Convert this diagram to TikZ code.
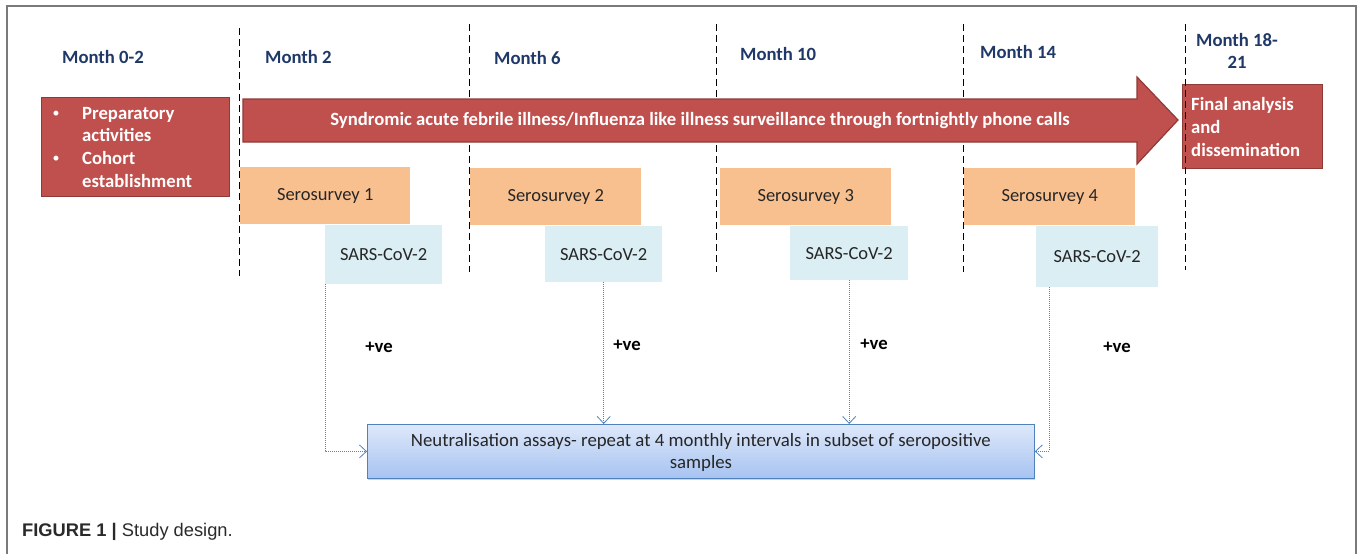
\documentclass[tikz,border=0pt]{standalone}
\usepackage{fontspec}
\setmainfont{Carlito}
\newfontfamily\capfont{Liberation Sans}
\usetikzlibrary{arrows.meta,calc,shadows}
\definecolor{redfill}{HTML}{C0504D}
\definecolor{redline}{HTML}{8E3A37}
\definecolor{navy}{HTML}{1F3868}
\definecolor{orangefill}{HTML}{F9C08F}
\definecolor{bluefill}{HTML}{DAEEF3}
\definecolor{linkblue}{HTML}{4F81BD}
\definecolor{neuttop}{HTML}{DEE8FA}
\definecolor{neutbot}{HTML}{A6C3F1}
\definecolor{framegray}{HTML}{7A7A7A}
\definecolor{capgray}{HTML}{2A2A2A}
\tikzset{
  monthlbl/.style={font=\fontsize{18.7}{22}\selectfont\bfseries, text=navy, inner sep=0pt},
  redbox/.style={fill=redfill, draw=redline, line width=1.4pt, inner sep=0pt},
  whitetxt/.style={font=\fontsize{18.7}{22.8}\selectfont\bfseries, text=white, inner sep=0pt, align=left},
  bullettxt/.style={font=\fontsize{14}{16}\selectfont, text=white, inner sep=0pt},
  serobox/.style={fill=orangefill, inner sep=0pt, font=\fontsize{18.5}{21}\selectfont, text=black!85},
  sarsbox/.style={fill=bluefill, inner sep=0pt, font=\fontsize{18.5}{21}\selectfont, text=black!85},
  dashline/.style={black, line width=1pt, dash pattern=on 7pt off 4pt},
  link/.style={linkblue, line width=0.9pt, dash pattern=on 1pt off 1pt, -{Straight Barb[length=7pt,width=13pt,line width=0.8pt]}},
  poslbl/.style={font=\fontsize{18.7}{21}\selectfont\bfseries, inner sep=0pt},
}
\begin{document}
\begin{tikzpicture}[x=1pt,y=-1pt]
\useasboundingbox (0,0) rectangle (1360,554);
% frame
\draw[framegray, line width=1.6pt] (7,554) -- (7,6) -- (1356,6) -- (1356,554);

% month labels
\node[monthlbl, anchor=west] (m0) at (62,57) {Month 0-2};
\node[monthlbl, anchor=west] (m2) at (265,57) {Month 2};
\node[monthlbl, anchor=west] (m6) at (494,58) {Month 6};
\node[monthlbl, anchor=west] (m10) at (740,54) {Month 10};
\node[monthlbl, anchor=west] (m14) at (980,52) {Month 14};
\node[monthlbl, align=center] (m18) at (1237,51) {Month 18-\\21};

% dashed dividers
\draw[dashline] (239,28) -- (239,276);
\draw[dashline] (469,24) -- (469,272);
\draw[dashline] (716,24) -- (716,272);
\draw[dashline] (963,24) -- (963,272);

% preparatory box
\node[redbox, minimum width=188pt, minimum height=99pt, anchor=north west] (prep) at (41,97) {};
\node[bullettxt] (b1) at (56,114) {•};
\node[bullettxt] (b2) at (56,159) {•};
\node[whitetxt, anchor=west] (p1) at (82,124.5) {Preparatory\\activities};
\node[whitetxt, anchor=west] (p2) at (82,169.5) {Cohort\\establishment};

% surveillance arrow
\fill[redfill] (243,99) -- (1137,99) -- (1137,77) -- (1178,120) -- (1137,164) -- (1137,142) -- (243,142) -- cycle;
\draw[redline, line width=1.2pt, line join=miter] (243,99) -- (1137,99) -- (1137,77) -- (1178,120) -- (1137,164) -- (1137,142) -- (243,142) -- cycle;
\node[whitetxt] (surv) at (700,121) {Syndromic acute febrile illness/Influenza like illness surveillance through fortnightly phone calls};

% final box
\node[redbox, minimum width=140pt, minimum height=84pt, anchor=north west] (final) at (1182,84) {};
\node[whitetxt, anchor=west] (ftxt) at (1191,127) {Final analysis\\and\\dissemination};
\draw[dashline] (1185,24) -- (1185,270);

% serosurveys
\node[serobox, minimum width=170pt, minimum height=57pt, anchor=north west] (sero1) at (240,167) {Serosurvey 1};
\node[serobox, minimum width=171pt, minimum height=57pt, anchor=north west] (sero2) at (470,168) {Serosurvey 2};
\node[serobox, minimum width=171pt, minimum height=57pt, anchor=north west] (sero3) at (720,168) {Serosurvey 3};
\node[serobox, minimum width=171pt, minimum height=57pt, anchor=north west] (sero4) at (964,168) {Serosurvey 4};

% SARS-CoV-2 boxes
\node[sarsbox, minimum width=117pt, minimum height=59pt, anchor=north west] (s1) at (325,225) {SARS-CoV-2};
\node[sarsbox, minimum width=117pt, minimum height=56pt, anchor=north west] (s2) at (545,226) {SARS-CoV-2};
\node[sarsbox, minimum width=118pt, minimum height=54pt, anchor=north west] (s3) at (790,226) {SARS-CoV-2};
\node[sarsbox, minimum width=122pt, minimum height=61pt, anchor=north west] (s4) at (1036,226) {SARS-CoV-2};

% neutralisation box
\node[draw=linkblue, line width=0.8pt, top color=neuttop, bottom color=neutbot,
      minimum width=667pt, minimum height=54pt, anchor=north west, inner sep=0pt,
      drop shadow={shadow xshift=1pt, shadow yshift=-2pt, opacity=0.35}] (neut) at (367,424) {};
\node[font=\fontsize{18.8}{22.5}\selectfont, align=center, inner sep=0pt, text=black!85] (ntxt) at ($(neut.center)+(0,1)$) {Neutralisation assays- repeat at 4 monthly intervals in subset of seropositive\\samples};

% connectors
\coordinate (c4) at ($(s4.south west)+(13,0)$);
\draw[link] (s1.south west) |- (neut.west);
\draw[link] (s2.south) -- (s2.south |- neut.north);
\draw[link] (s3.south) -- (s3.south |- neut.north);
\draw[link] (c4) |- (neut.east);

% +ve labels
\node[poslbl] (v1) at (379,347) {+ve};
\node[poslbl] (v2) at (627,345) {+ve};
\node[poslbl] (v3) at (874,344) {+ve};
\node[poslbl] (v4) at (1117,347) {+ve};

% caption
\node[anchor=west, inner sep=0pt, text=capgray, font=\capfont\fontsize{18.3}{21}\selectfont] (cap) at (22,532) {\textbf{FIGURE 1 |} Study design.};
\end{tikzpicture}
\end{document}
